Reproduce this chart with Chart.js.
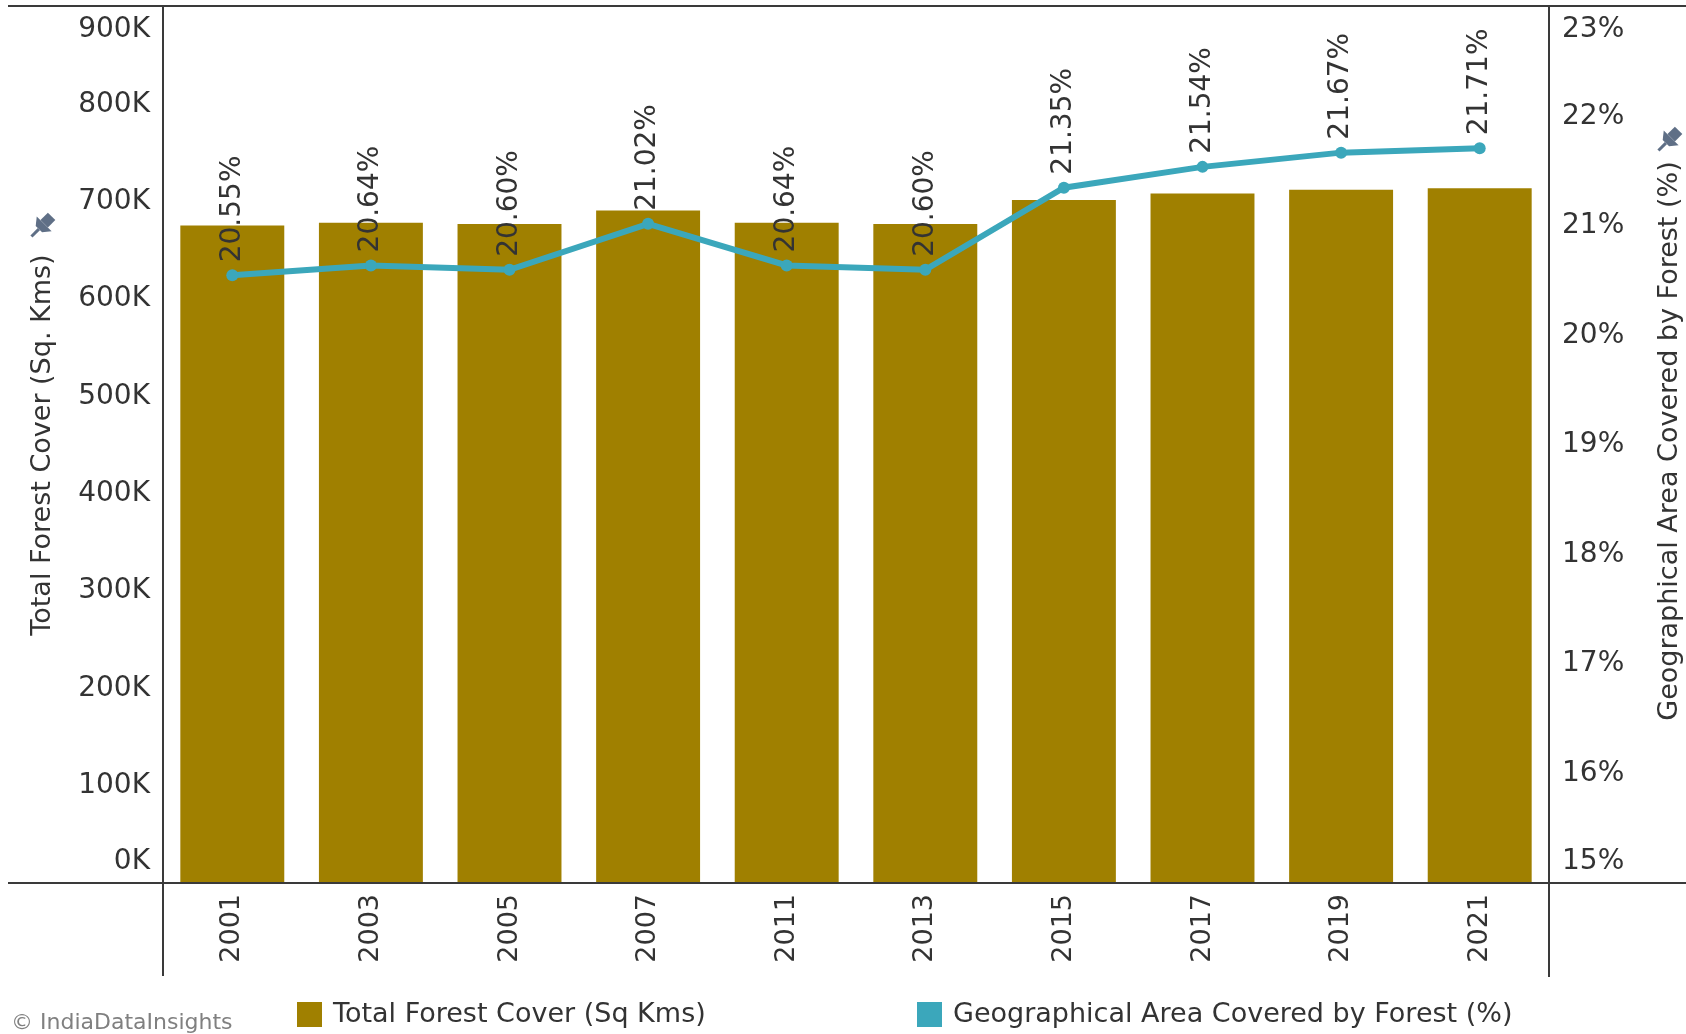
<!DOCTYPE html>
<html>
<head>
<meta charset="utf-8">
<script src="https://cdn.jsdelivr.net/npm/chart.js@4.4.0/dist/chart.umd.min.js"></script>
<style>
html,body{margin:0;padding:0;background:#fff;overflow:hidden}
#wrap{position:relative;width:1686px;height:1034px}
canvas{position:absolute;left:0;top:0}
</style>
</head>
<body>
<div id="wrap"><canvas id="c" width="1686" height="1034"></canvas></div>
<script>
const years = ['2001','2003','2005','2007','2011','2013','2015','2017','2019','2021'];
const forestCover = [675538, 678333, 677088, 690899, 678333, 677088, 701673, 708273, 712249, 713789];
const forestPct = [20.55, 20.64, 20.60, 21.02, 20.64, 20.60, 21.35, 21.54, 21.67, 21.71];
const coverTickLabels = ['0K','100K','200K','300K','400K','500K','600K','700K','800K','900K'];
const pctTickLabels = ['15%','16%','17%','18%','19%','20%','21%','22%','23%'];
const pctLabels = ['20.55%','20.64%','20.60%','21.02%','20.64%','20.60%','21.35%','21.54%','21.67%','21.71%'];

const FONT = '"DejaVu Sans"';
const TXT = '#333333';
const BAR = '#a08000';
const LINE = '#3ba7bb';

function drawPin(ctx, x, y) {
  ctx.save();
  ctx.translate(x, y);
  ctx.rotate(Math.PI / 4);
  ctx.scale(1.5, 1.5);
  ctx.fillStyle = '#5f6f86';
  ctx.fillRect(-3.5, -10, 7, 7);
  ctx.beginPath();
  ctx.moveTo(-7, -3); ctx.lineTo(7, -3); ctx.lineTo(3, 2); ctx.lineTo(-3, 2); ctx.closePath();
  ctx.fill();
  ctx.fillRect(-1, 2, 2, 7);
  ctx.restore();
}

const overlay = {
  id: 'overlay',
  afterDatasetsDraw(chart) {
    const ctx = chart.ctx;
    const meta = chart.getDatasetMeta(1);
    ctx.save();
    ctx.font = '28px ' + FONT;
    ctx.fillStyle = TXT;
    ctx.textAlign = 'left';
    ctx.textBaseline = 'middle';
    meta.data.forEach((pt, i) => {
      ctx.save();
      ctx.translate(pt.x, pt.y - 13);
      ctx.rotate(-Math.PI / 2);
      ctx.fillText(pctLabels[i], 0, 0);
      ctx.restore();
    });
    ctx.restore();
  },
  afterDraw(chart) {
    const ctx = chart.ctx;
    const a = chart.chartArea;
    ctx.save();
    ctx.strokeStyle = '#3a3a3a';
    ctx.lineWidth = 2;
    ctx.beginPath();
    ctx.moveTo(8, a.top - 1); ctx.lineTo(1686, a.top - 1);
    ctx.moveTo(8, a.bottom); ctx.lineTo(1686, a.bottom);
    ctx.moveTo(a.left, a.top - 1); ctx.lineTo(a.left, 976);
    ctx.moveTo(a.right, a.top - 1); ctx.lineTo(a.right, 977);
    ctx.stroke();

    // right axis title
    ctx.fillStyle = TXT;
    ctx.font = '27px ' + FONT;
    ctx.textAlign = 'center';
    ctx.textBaseline = 'middle';
    ctx.save();
    ctx.translate(1670, 441);
    ctx.rotate(-Math.PI / 2);
    ctx.fillText('Geographical Area Covered by Forest (%)', 0, 0);
    ctx.restore();

    drawPin(ctx, 41, 227);
    drawPin(ctx, 1668, 141);

    // legend
    ctx.textAlign = 'left';
    ctx.fillStyle = BAR;
    ctx.fillRect(297, 1002, 25, 25);
    ctx.fillStyle = LINE;
    ctx.fillRect(917, 1002, 25, 25);
    ctx.fillStyle = TXT;
    ctx.font = '27px ' + FONT;
    ctx.fillText('Total Forest Cover (Sq Kms)', 333, 1015);
    ctx.fillText('Geographical Area Covered by Forest (%)', 953, 1015);

    ctx.fillStyle = '#808080';
    ctx.font = '22px ' + FONT;
    ctx.fillText('\u00A9 IndiaDataInsights', 11, 1023);
    ctx.restore();
  }
};

function endFont(first, last) {
  return (c) => ({
    family: FONT, size: 28,
    lineHeight: c.index === first ? '42px' : (c.index === last ? '46px' : 1.2)
  });
}

new Chart(document.getElementById('c'), {
  data: {
    labels: years,
    datasets: [
      {
        type: 'bar',
        label: 'Total Forest Cover (Sq Kms)',
        data: forestCover,
        backgroundColor: BAR,
        yAxisID: 'y',
        barPercentage: 0.75,
        categoryPercentage: 1.0,
        order: 2
      },
      {
        type: 'line',
        label: 'Geographical Area Covered by Forest (%)',
        data: forestPct,
        borderColor: LINE,
        backgroundColor: LINE,
        borderWidth: 6,
        pointRadius: 6,
        pointBackgroundColor: LINE,
        pointBorderWidth: 0,
        tension: 0,
        yAxisID: 'y1',
        order: 1
      }
    ]
  },
  options: {
    responsive: false,
    animation: false,
    devicePixelRatio: 1,
    layout: { padding: { top: 7, left: 0, right: 0, bottom: 0 } },
    plugins: { legend: { display: false }, tooltip: { enabled: false } },
    scales: {
      x: {
        type: 'category',
        offset: true,
        grid: { display: false, drawTicks: false },
        border: { display: false },
        ticks: {
          minRotation: 90, maxRotation: 90, autoSkip: false,
          padding: 11, color: TXT,
          font: { family: FONT, size: 27 }
        },
        afterFit: (s) => { s.height = 151; s.paddingLeft = 0; s.paddingRight = 0; }
      },
      y: {
        type: 'linear', position: 'left',
        min: 0, max: 900000,
        grid: { display: false, drawTicks: false },
        border: { display: false },
        ticks: {
          stepSize: 100000, padding: 13, color: TXT, autoSkip: false,
          font: endFont(0, 9),
          callback: (v, i) => i === 0 ? [coverTickLabels[i], ''] : (i === 9 ? ['', coverTickLabels[i]] : coverTickLabels[i])
        },
        title: {
          display: true, text: 'Total Forest Cover (Sq. Kms)', color: TXT,
          font: { family: FONT, size: 27 }, padding: { top: 27, bottom: 0 }
        },
        afterFit: (s) => { s.width = 163; s.paddingTop = 0; s.paddingBottom = 0; }
      },
      y1: {
        type: 'linear', position: 'right',
        min: 15, max: 23,
        grid: { display: false, drawTicks: false },
        border: { display: false },
        ticks: {
          stepSize: 1, padding: 13, color: TXT, autoSkip: false,
          font: endFont(0, 8),
          callback: (v, i) => i === 0 ? [pctTickLabels[i], ''] : (i === 8 ? ['', pctTickLabels[i]] : pctTickLabels[i])
        },
        afterFit: (s) => { s.width = 137; s.paddingTop = 0; s.paddingBottom = 0; }
      }
    }
  },
  plugins: [overlay]
});
</script>
</body>
</html>
